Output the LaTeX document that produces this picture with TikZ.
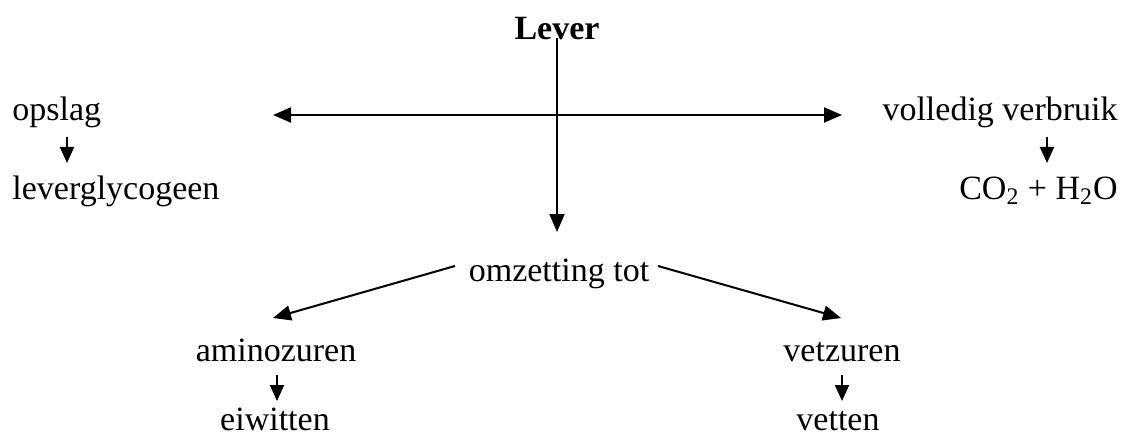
\documentclass[tikz,border=0pt]{standalone}
\usepackage{fontspec}
\setmainfont{Liberation Serif}
\usetikzlibrary{arrows.meta}
\begin{document}
\begin{tikzpicture}[x=0.5pt,y=-0.5pt,
  lbl/.style={inner sep=0pt,anchor=base,font=\fontsize{17}{20}\selectfont},
  conn/.style={line width=1pt,-{Triangle[length=9pt,width=7.5pt]}},
  small/.style={line width=1pt,-{Triangle[length=8pt,width=7pt]}}]
\useasboundingbox (0,0) rectangle (1133,438);
\node[lbl,font=\bfseries\fontsize{17}{20}\selectfont] (lever) at (557,40) {Lever};
\node[lbl,anchor=base west] (opslag) at (12,121) {opslag};
\node[lbl,anchor=base west] (lgly) at (12,199) {leverglycogeen};
\node[lbl,anchor=base east] (volledig) at (1118,121) {volledig verbruik};
\node[lbl,anchor=base east] (co2) at (1118,199) {CO\textsubscript{2} + H\textsubscript{2}O};
\node[lbl] (omz) at (559,281) {omzetting tot};
\node[lbl] (amino) at (276,361) {aminozuren};
\node[lbl] (eiw) at (275,430) {eiwitten};
\node[lbl] (vetz) at (842,361) {vetzuren};
\node[lbl] (vet) at (838,430) {vetten};
\coordinate (hl) at (273,115);
\coordinate (hr) at (842,115);
\coordinate (vtop) at (557,38);
\coordinate (vbot) at (557,232);
\coordinate (dl0) at (455,266);
\coordinate (dl1) at (273,318);
\coordinate (dr0) at (658,266);
\coordinate (dr1) at (841,318);
\coordinate (a0) at (67,137);
\coordinate (a1) at (67,163);
\coordinate (b0) at (1047,137);
\coordinate (b1) at (1047,163);
\coordinate (c0) at (277,375);
\coordinate (c1) at (277,401);
\coordinate (d0) at (842,375);
\coordinate (d1) at (842,401);
\draw[line width=1pt,{Triangle[length=9pt,width=7.5pt]}-{Triangle[length=9pt,width=7.5pt]}] (hl) -- (hr);
\draw[conn] (vtop) -- (vbot);
\draw[conn] (dl0) -- (dl1);
\draw[conn] (dr0) -- (dr1);
\draw[small] (a0) -- (a1);
\draw[small] (b0) -- (b1);
\draw[small] (c0) -- (c1);
\draw[small] (d0) -- (d1);
\end{tikzpicture}
\end{document}
